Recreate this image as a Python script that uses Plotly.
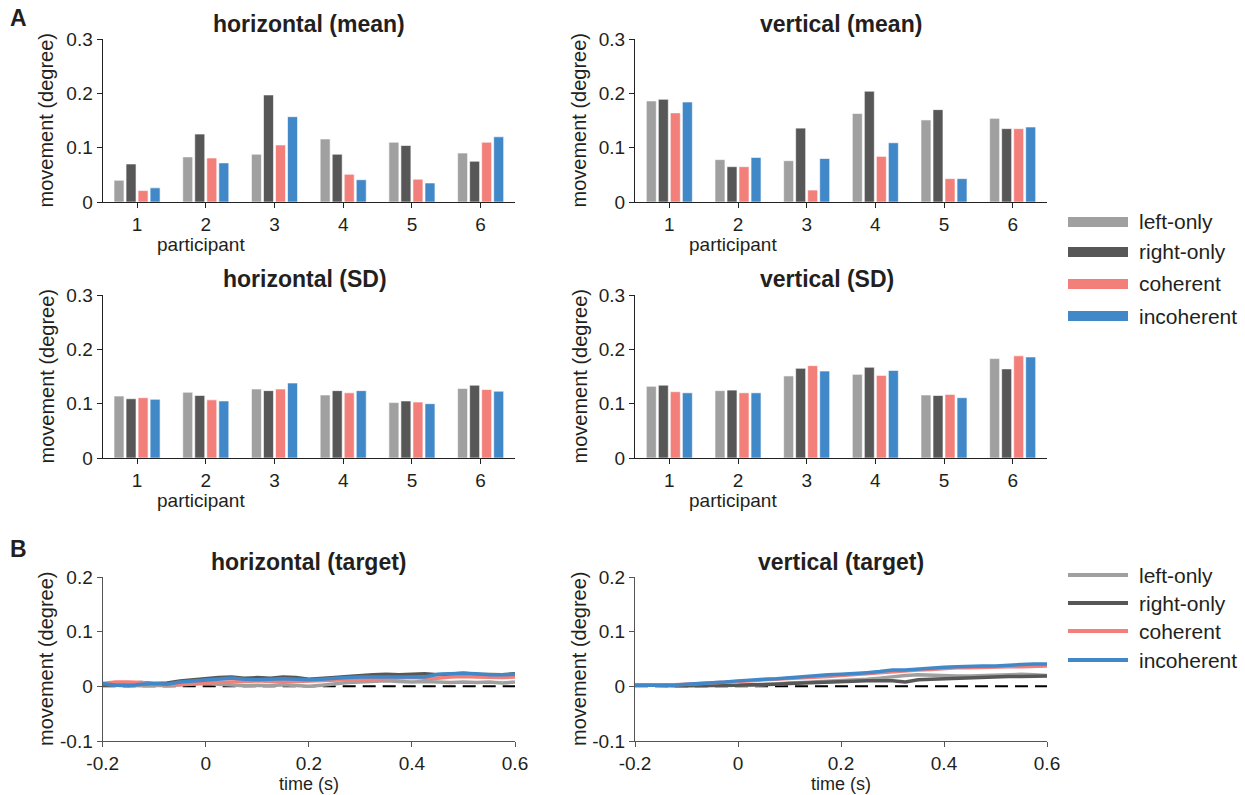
import plotly.graph_objects as go

participants = [1, 2, 3, 4, 5, 6]
conditions = ["left-only", "right-only", "coherent", "incoherent"]
colors = ["#a0a0a0", "#575757", "#f37f7a", "#4188c9"]

h_mean = {
    "left-only":  [0.040, 0.083, 0.088, 0.116, 0.110, 0.090],
    "right-only": [0.070, 0.125, 0.197, 0.088, 0.104, 0.075],
    "coherent":   [0.021, 0.081, 0.105, 0.051, 0.042, 0.110],
    "incoherent": [0.026, 0.072, 0.157, 0.041, 0.035, 0.120],
}
v_mean = {
    "left-only":  [0.186, 0.078, 0.076, 0.163, 0.151, 0.154],
    "right-only": [0.189, 0.065, 0.136, 0.204, 0.170, 0.135],
    "coherent":   [0.164, 0.065, 0.022, 0.084, 0.043, 0.135],
    "incoherent": [0.184, 0.082, 0.080, 0.109, 0.043, 0.138],
}
h_sd = {
    "left-only":  [0.114, 0.121, 0.127, 0.116, 0.102, 0.128],
    "right-only": [0.109, 0.115, 0.124, 0.124, 0.105, 0.134],
    "coherent":   [0.111, 0.107, 0.127, 0.120, 0.103, 0.126],
    "incoherent": [0.108, 0.105, 0.138, 0.124, 0.100, 0.123],
}
v_sd = {
    "left-only":  [0.132, 0.124, 0.151, 0.154, 0.116, 0.183],
    "right-only": [0.134, 0.125, 0.165, 0.167, 0.115, 0.164],
    "coherent":   [0.122, 0.120, 0.170, 0.152, 0.117, 0.188],
    "incoherent": [0.120, 0.120, 0.160, 0.161, 0.111, 0.186],
}

time_s = [-0.2, -0.175, -0.15, -0.125, -0.1, -0.075, -0.05, -0.025, 0.0,
          0.025, 0.05, 0.075, 0.1, 0.125, 0.15, 0.175, 0.2, 0.225, 0.25,
          0.275, 0.3, 0.325, 0.35, 0.375, 0.4, 0.425, 0.45, 0.475, 0.5,
          0.525, 0.55, 0.575, 0.6]

h_target = {
    "left-only": [.003, .002, .002, .001, .002, .001, .003, .004, .005, .004, .002, .001, .002,
                  .001, .003, .001, .000, .002, .005, .007, .008, .009, .010, .009, .008, .009,
                  .008, .007, .008, .007, .008, .006, .008],
    "right-only": [.003, .004, .006, .007, .005, .006, .010, .012, .015, .016, .017, .015, .016,
                   .015, .017, .016, .013, .014, .016, .018, .020, .021, .022, .021, .022, .023,
                   .021, .022, .024, .022, .022, .021, .023],
    "coherent": [.005, .008, .008, .007, .004, .004, .003, .005, .006, .007, .008, .009, .010,
                 .009, .008, .009, .010, .011, .012, .012, .013, .013, .014, .015, .016, .015,
                 .015, .017, .018, .017, .016, .016, .017],
    "incoherent": [.005, .002, .001, .004, .005, .004, .008, .010, .012, .014, .015, .013, .012,
                   .013, .014, .013, .012, .013, .015, .016, .017, .017, .018, .018, .018, .017,
                   .022, .023, .024, .023, .021, .021, .022],
}
v_target = {
    "left-only": [.002, .002, .001, .002, .002, .001, .001, .002, .001, .002, .003, .005, .006,
                  .007, .008, .009, .010, .011, .013, .015, .018, .020, .021, .020, .020, .019,
                  .019, .020, .021, .022, .022, .021, .020],
    "right-only": [.003, .002, .002, .001, .001, .001, .001, .002, .002, .003, .003, .004, .005,
                   .006, .006, .007, .008, .009, .010, .010, .010, .008, .012, .013, .014, .015,
                   .016, .016, .017, .018, .018, .019, .019],
    "coherent": [.003, .003, .002, .003, .004, .005, .006, .007, .008, .010, .012, .013, .014,
                 .016, .017, .018, .020, .021, .023, .025, .027, .028, .030, .031, .033, .034,
                 .034, .035, .035, .036, .036, .037, .037],
    "incoherent": [.002, .002, .001, .002, .004, .005, .006, .008, .010, .012, .013, .014, .016,
                   .018, .020, .021, .022, .023, .025, .027, .030, .030, .032, .034, .035, .036,
                   .037, .037, .037, .039, .040, .041, .041],
}

bar_ticks = [0, 0.1, 0.2, 0.3]
bar_ticklabels = ["0", "0.1", "0.2", "0.3"]
line_yticks = [-0.1, 0, 0.1, 0.2]
line_yticklabels = ["-0.1", "0", "0.1", "0.2"]
line_xticks = [-0.2, 0, 0.2, 0.4, 0.6]
line_xticklabels = ["-0.2", "0", "0.2", "0.4", "0.6"]

W, H = 1245, 795
FONT = "Liberation Sans, Arial, sans-serif"
TXT = "#231f20"

def px_x(x):
    return x / W

def px_y(y):
    return 1 - y / H

fig = go.Figure()

panels = [
    (h_mean, "x", "y"),
    (v_mean, "x2", "y2"),
    (h_sd, "x3", "y3"),
    (v_sd, "x4", "y4"),
]
for data, xa, ya in panels:
    for cond, col in zip(conditions, colors):
        fig.add_trace(go.Bar(
            x=participants, y=data[cond], name=cond, marker_color=col,
            marker_line=dict(color="white", width=0.6),
            xaxis=xa, yaxis=ya, showlegend=False, offsetgroup=cond,
        ))

for data, xa, ya in [(h_target, "x5", "y5"), (v_target, "x6", "y6")]:
    fig.add_trace(go.Scatter(
        x=[time_s[0], time_s[-1]], y=[0, 0], mode="lines",
        line=dict(color="black", width=2, dash="13px,7px"),
        xaxis=xa, yaxis=ya, showlegend=False, hoverinfo="skip"))
    for cond, col in zip(conditions, colors):
        fig.add_trace(go.Scatter(
            x=time_s, y=data[cond], mode="lines", name=cond,
            line=dict(color=col, width=3.5),
            xaxis=xa, yaxis=ya, showlegend=False))

left_dom = [px_x(102.7), px_x(515)]
right_dom = [px_x(635), px_x(1047)]
row_doms = [
    [px_y(202), px_y(39)],
    [px_y(458), px_y(295)],
    [px_y(741), px_y(577)],
]

axis_common = dict(showline=True, linewidth=1.3, ticks="outside", ticklen=5,
                   tickwidth=1.3, showgrid=False, zeroline=False, automargin=False,
                   tickfont=dict(family=FONT, size=19, color=TXT))

layout_axes = {}
ids = ["", "2", "3", "4", "5", "6"]
for i, aid in enumerate(ids):
    row = i // 2
    dom_x = left_dom if i % 2 == 0 else right_dom
    if row < 2:
        xa = dict(axis_common, domain=dom_x, range=[0.5, 6.5], tickvals=participants,
                  linecolor="#222", tickcolor="#222", anchor="y" + aid)
        ya = dict(axis_common, domain=row_doms[row], range=[0, 0.3], tickvals=bar_ticks,
                  ticktext=bar_ticklabels, linecolor="#222", tickcolor="#222",
                  anchor="x" + aid)
    else:
        xa = dict(axis_common, domain=dom_x, range=[-0.2, 0.6], tickvals=line_xticks,
                  ticktext=line_xticklabels, linecolor="#555", tickcolor="#555",
                  anchor="y" + aid)
        ya = dict(axis_common, domain=row_doms[row], range=[-0.1, 0.2], tickvals=line_yticks,
                  ticktext=line_yticklabels, linecolor="#555", tickcolor="#555",
                  anchor="x" + aid)
    layout_axes["xaxis" + aid] = xa
    layout_axes["yaxis" + aid] = ya

fig.update_layout(
    template="none",
    width=W, height=H, margin=dict(l=0, r=0, t=0, b=0, pad=0, autoexpand=False),
    paper_bgcolor="white", plot_bgcolor="white",
    barmode="group", bargap=0.30, bargroupgap=0.17,
    showlegend=False, font=dict(family=FONT, color=TXT),
    **layout_axes,
)

annotations = []
def add_text(x, y, text, size, bold=False, angle=0, xanchor="center"):
    annotations.append(dict(
        x=px_x(x), y=px_y(y), xref="paper", yref="paper", text=("<b>%s</b>" % text) if bold else text,
        showarrow=False, textangle=angle, xanchor=xanchor, yanchor="middle",
        font=dict(family=FONT, size=size, color=TXT)))

# panel titles
add_text(309, 24, "horizontal (mean)", 23, bold=True)
add_text(841, 24, "vertical (mean)", 23, bold=True)
add_text(305, 279, "horizontal (SD)", 23, bold=True)
add_text(827, 279, "vertical (SD)", 23, bold=True)
add_text(309, 562, "horizontal (target)", 23, bold=True)
add_text(841, 562, "vertical (target)", 23, bold=True)
# panel letters
add_text(18, 18, "A", 23, bold=True)
add_text(18, 549, "B", 23, bold=True)
# x-axis titles
add_text(201, 245, "participant", 19)
add_text(733, 245, "participant", 19)
add_text(201, 500, "participant", 19)
add_text(733, 500, "participant", 19)
add_text(309, 784, "time (s)", 18)
add_text(841, 784, "time (s)", 18)
# y-axis titles
for cx in (46, 579):
    for top, bot in ((39, 202), (295, 458), (577, 741)):
        add_text(cx, (top + bot) / 2, "movement (degree)", 20, angle=-90)

# legends
shapes = []
bar_leg_y = [222, 252, 284, 316]
for yy, cond, col in zip(bar_leg_y, conditions, colors):
    shapes.append(dict(type="rect", xref="paper", yref="paper",
                       x0=px_x(1068), x1=px_x(1128), y0=px_y(yy + 5), y1=px_y(yy - 5),
                       fillcolor=col, line=dict(width=0)))
    add_text(1137, yy, cond, 21, xanchor="left")
line_leg_y = [575, 603, 631, 660]
for yy, cond, col in zip(line_leg_y, conditions, colors):
    shapes.append(dict(type="line", xref="paper", yref="paper",
                       x0=px_x(1068), x1=px_x(1128), y0=px_y(yy), y1=px_y(yy),
                       line=dict(color=col, width=4)))
    add_text(1137, yy, cond, 21, xanchor="left")

fig.update_layout(annotations=annotations, shapes=shapes)
fig.write_html("out.html",
               post_script="document.body.style.margin='0';document.body.style.overflow='hidden';")
